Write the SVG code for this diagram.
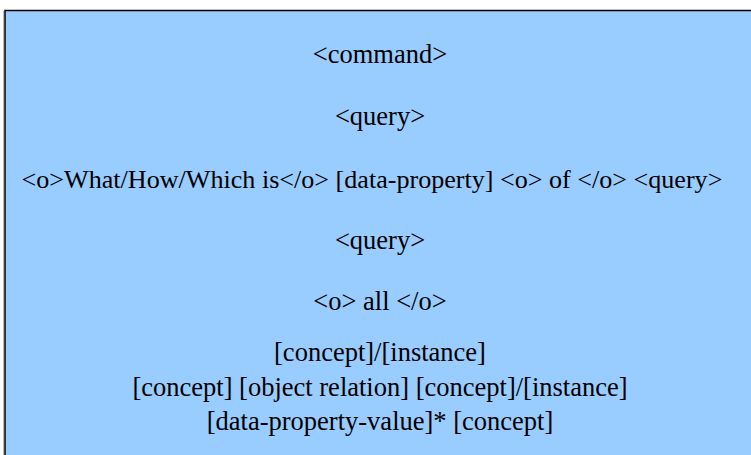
<svg xmlns="http://www.w3.org/2000/svg" width="751" height="455" viewBox="0 0 751 455">
  <style>
    .panel { fill: #99CCFF; stroke: #000000; stroke-width: 1.5; }
    .shade { fill: none; stroke: #BBBBBB; stroke-width: 1; }
    .t { font-family: "Liberation Serif", "Times New Roman", serif; font-size: 26.5px; fill: #000000; text-anchor: middle; }
    .wide { font-size: 26.1px; }
  </style>
  <g id="grammar-panel">
    <line class="shade" x1="3.5" y1="11" x2="3.5" y2="455"/>
    <rect class="panel" x="5" y="10.5" width="760" height="460"/>
  </g>
  <g id="rules">
    <text class="t" x="380" y="63">&lt;command&gt;</text>
    <text class="t" x="380" y="125">&lt;query&gt;</text>
    <text class="t wide" x="372" y="188">&lt;o&gt;What/How/Which is&lt;/o&gt; [data-property] &lt;o&gt; of &lt;/o&gt; &lt;query&gt;</text>
    <text class="t" x="380" y="249">&lt;query&gt;</text>
    <text class="t" x="380" y="310">&lt;o&gt; all &lt;/o&gt;</text>
    <text class="t" x="380" y="361">[concept]/[instance]</text>
    <text class="t" x="380" y="395.5">[concept] [object relation] [concept]/[instance]</text>
    <text class="t" x="380" y="430">[data-property-value]* [concept]</text>
  </g>
</svg>
